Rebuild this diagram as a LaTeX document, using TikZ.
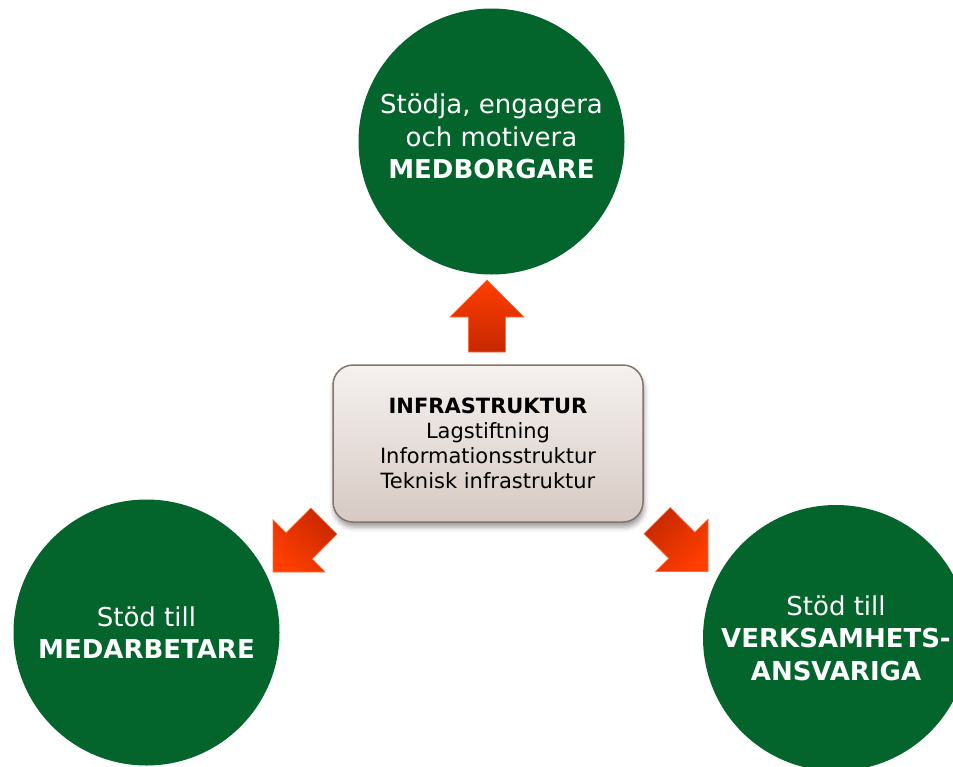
\documentclass[tikz,border=0pt]{standalone}
\usepackage{fontspec}
\setmainfont{DejaVu Sans}
\usetikzlibrary{shadows.blur}
\definecolor{cgreen}{RGB}{3,101,43}
\definecolor{arrbright}{RGB}{255,62,0}
\definecolor{arrdark}{RGB}{198,40,0}
\definecolor{arredge}{RGB}{255,110,60}
\definecolor{boxtop}{RGB}{245,241,239}
\definecolor{boxbot}{RGB}{214,202,195}
\definecolor{boxedge}{RGB}{132,117,106}
\begin{document}
\begin{tikzpicture}[x=1pt,y=-1pt,
 goal/.style={circle, fill=cgreen, minimum size=266pt, inner sep=0pt, text=white,
   align=center, font=\fontsize{26}{32.5}\selectfont},
 goaltext/.style={inner sep=0pt, text=white, align=center, font=\fontsize{26}{32.5}\selectfont},
 infobox/.style={rounded corners=20pt, draw=boxedge, line width=1.5pt,
   top color=boxtop, bottom color=boxbot, minimum width=310pt, minimum height=157pt,
   align=center, font=\fontsize{21}{25}\selectfont,
   blur shadow={shadow xshift=1pt, shadow yshift=-5pt, shadow blur radius=5pt, shadow opacity=40}},
 fatarrow/.style={draw=arredge, line width=0.6pt, top color=arrbright, bottom color=arrdark}]
\useasboundingbox (0,0) rectangle (953,766);
\clip (0,0) rectangle (953,766);
\node[goal] (citizens) at (491.5,141.5) {};
\node[goaltext] (citizenstext) at (491.5,136.5) {Stödja, engagera\\och motivera\\\textbf{MEDBORGARE}};
\node[goal] (staff) at (146.5,632.5) {Stöd till\\\textbf{MEDARBETARE}};
\node[goal] (managers) at (836,638) {Stöd till\\\textbf{VERKSAMHETS-}\\\textbf{ANSVARIGA}};
\node[infobox] (infra) at (488,443.5) {\textbf{INFRASTRUKTUR}\\Lagstiftning\\Informationsstruktur\\Teknisk infrastruktur};
% up arrow
\path[fatarrow] (487,280) -- (524,317) -- (505.5,317) -- (505.5,352) -- (468.5,352) -- (468.5,317) -- (450,317) -- cycle;
% down-left arrow
\path[fatarrow, shading angle=135] (273,572) -- (273,519.7) -- (286.1,532.8) -- (310.8,508) -- (337,534.2) -- (312.2,558.9) -- (325.3,572) -- cycle;
% down-right arrow
\path[fatarrow, shading angle=-135] (708,571.5) -- (708,519.2) -- (694.9,532.3) -- (670.2,507.5) -- (644,533.7) -- (668.8,558.4) -- (655.7,571.5) -- cycle;
\end{tikzpicture}
\end{document}
